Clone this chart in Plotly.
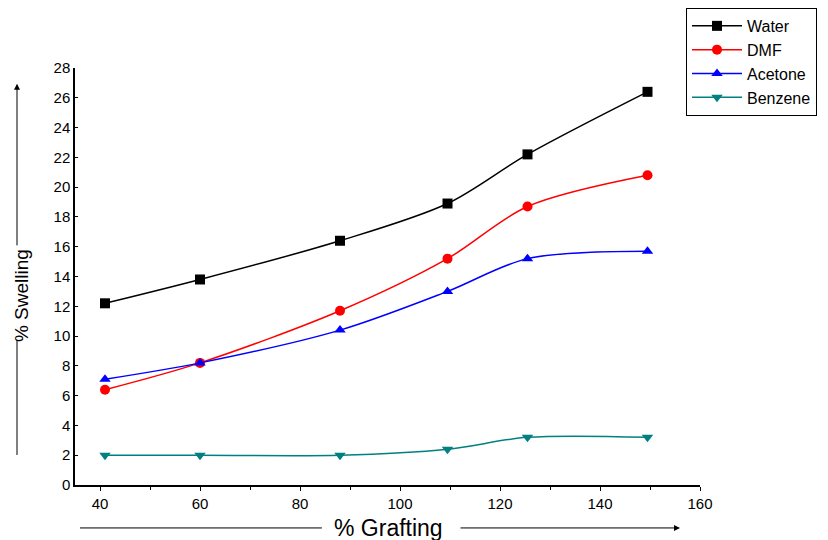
import plotly.graph_objects as go

grafting = [41, 60, 88, 109.5, 125.5, 149.5]
water = [12.2, 13.8, 16.4, 18.9, 22.2, 26.4]
dmf = [6.4, 8.2, 11.7, 15.2, 18.7, 20.8]
acetone = [7.1, 8.2, 10.4, 13.0, 15.2, 15.7]
benzene = [2.0, 2.0, 2.0, 2.4, 3.2, 3.2]

series = [
    ("Water", water, "black", "square"),
    ("DMF", dmf, "red", "circle"),
    ("Acetone", acetone, "blue", "triangle-up"),
    ("Benzene", benzene, "#008080", "triangle-down"),
]

FONT = "Liberation Sans, Arial, sans-serif"
fig = go.Figure()
for name, ys, col, sym in series:
    fig.add_trace(go.Scatter(
        x=grafting, y=ys, name=name, mode="lines+markers",
        line=dict(color=col, width=1.5, shape="spline", smoothing=0.9),
        marker=dict(symbol=sym, size=10, color=col),
    ))

fig.update_layout(
    width=828, height=540,
    margin=dict(l=67, r=136, t=60, b=63, autoexpand=False),
    plot_bgcolor="white", paper_bgcolor="white",
    font=dict(family=FONT, color="black", size=15),
    showlegend=True,
    legend=dict(x=0.9776, y=1.144, xanchor="left", yanchor="top",
                bordercolor="black", borderwidth=1, bgcolor="white",
                font=dict(size=16, family=FONT), tracegroupgap=0, itemwidth=50),
    xaxis=dict(range=[35, 160], tickvals=[40, 60, 80, 100, 120, 140, 160],
               showline=True, linecolor="black", linewidth=1.5, showgrid=False,
               zeroline=False, ticks="outside", ticklen=4, tickcolor="black",
               minor=dict(tickvals=[50, 70, 90, 110, 130, 150], ticks="outside", ticklen=3, tickcolor="black"),
               tickfont=dict(size=15)),
    yaxis=dict(range=[0, 28], dtick=2, showline=True, linecolor="black", linewidth=1.5,
               showgrid=False, zeroline=False, ticks="inside", ticklen=3, tickcolor="black",
               tickfont=dict(size=15), ticklabelstandoff=0),
)

# axis titles with arrows
fig.add_annotation(text="% Swelling", xref="paper", yref="paper", x=-0.0864, y=0.453,
                   xanchor="center", yanchor="middle",
                   textangle=-90, showarrow=False, font=dict(size=19, family=FONT))
fig.add_annotation(text="% Grafting", xref="paper", yref="paper", x=0.501, y=-0.103,
                   xanchor="center", yanchor="middle",
                   showarrow=False, font=dict(size=23, family=FONT))
fig.add_shape(type="line", xref="paper", yref="paper", x0=-0.0928, x1=-0.0928, y0=0.072, y1=0.348,
              line=dict(color="black", width=1))
fig.add_annotation(text="", xref="paper", yref="paper",
                   x=-0.0928, y=0.962, ax=0, ay=163, showarrow=True,
                   arrowhead=2, arrowsize=1.2, arrowwidth=1, arrowcolor="black")
fig.add_shape(type="line", xref="paper", yref="paper", x0=0.008, x1=0.395, y0=-0.103, y1=-0.103,
              line=dict(color="black", width=1))
fig.add_annotation(text="", xref="paper", yref="paper",
                   x=0.968, y=-0.103, ax=-221, ay=0, showarrow=True,
                   arrowhead=2, arrowsize=1.2, arrowwidth=1, arrowcolor="black")

fig.write_html("out.html")
